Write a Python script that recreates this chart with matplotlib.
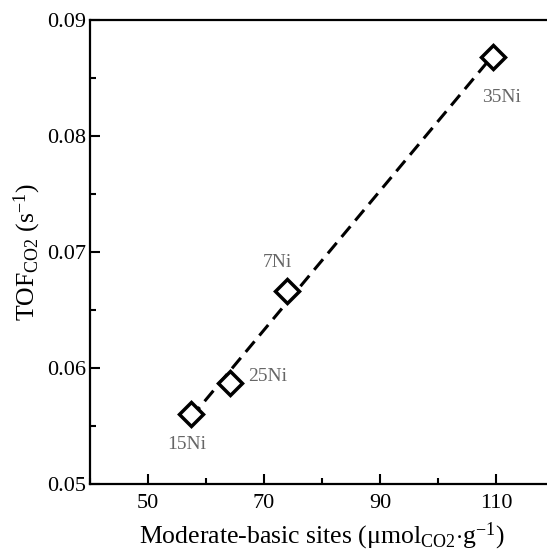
import numpy as np
import matplotlib.pyplot as plt
from matplotlib.ticker import MultipleLocator

# values
samples = ["15Ni", "25Ni", "7Ni", "35Ni"]
basic_sites = [57.4, 64.2, 73.9, 109.5]
tof = [0.0560, 0.0587, 0.0666, 0.0868]
label_offsets = [(-3, -22), (27, 5), (-7, 21), (6, -29)]

plt.rcParams['font.family'] = ['Liberation Serif', 'DejaVu Serif']
plt.rcParams['mathtext.fontset'] = 'custom'
plt.rcParams['mathtext.rm'] = 'Liberation Serif'
plt.rcParams['mathtext.it'] = 'Liberation Serif'

fig = plt.figure(figsize=(5.47, 5.51), dpi=100)
# right edge of the axes runs past the figure, like the reference
ax = fig.add_axes([90 / 547, 1 - 484 / 551, 464 / 547, 464 / 551])

coef = np.polyfit(basic_sites, tof, 1)
xfit = np.array([min(basic_sites), max(basic_sites)])
ax.plot(xfit, np.polyval(coef, xfit), color='black', lw=2.2,
        ls=(0, (4.5, 2.5)), zorder=2)
ax.plot(basic_sites, tof, ls='none', marker='D', ms=12, mfc='white',
        mec='black', mew=2.5, zorder=3)

for name, x, y, off in zip(samples, basic_sites, tof, label_offsets):
    ax.annotate(name, (x, y), xytext=off, textcoords='offset points',
                ha='center', va='center', fontsize=14, color='#666666')

ax.set_xlim(40, 120)
ax.set_ylim(0.05, 0.09)
ax.set_xticks([50, 70, 90, 110])
ax.xaxis.set_minor_locator(MultipleLocator(10))
ax.yaxis.set_major_locator(MultipleLocator(0.01))
ax.yaxis.set_minor_locator(MultipleLocator(0.005))
ax.tick_params(which='both', direction='in', width=1.5, labelsize=16,
               top=False, right=False)
ax.tick_params(which='major', length=7)
ax.tick_params(axis='y', which='major', pad=3)
ax.tick_params(axis='x', which='major', pad=7)
ax.tick_params(which='minor', length=4)
for s in ax.spines.values():
    s.set_linewidth(1.6)

ax.set_xlabel(r'Moderate-basic sites ($\mathrm{\mu mol_{CO2}{\cdot}g^{-1}}$)',
              fontsize=18.5, labelpad=6)
ax.set_ylabel(r'TOF$_{\mathrm{CO2}}$ (s$^{\mathrm{-1}}$)', fontsize=18.5,
              labelpad=3)

fig.savefig('out.png', dpi=100)
